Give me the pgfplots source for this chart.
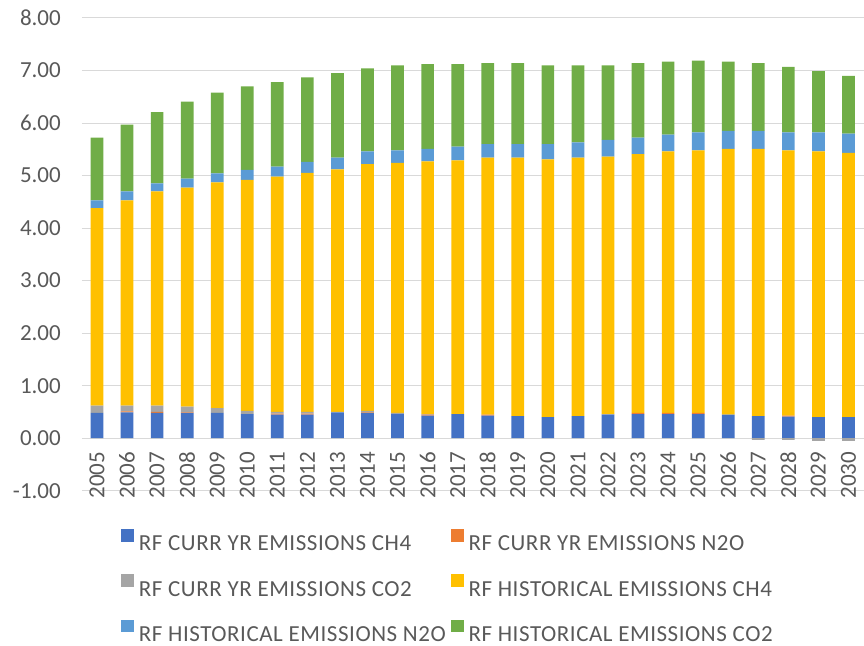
\documentclass[border=0pt]{standalone}
\usepackage{pgfplots}
\usepackage{pgfplotstable}
\usepackage{fontspec}
\setmainfont{Carlito}
\newfontfamily\legfont[LetterSpace=2.4]{Carlito}
\pgfplotsset{compat=1.18}
\definecolor{cch4}{HTML}{4472C4}
\definecolor{cn2o}{HTML}{ED7D31}
\definecolor{cco2}{HTML}{A5A5A5}
\definecolor{hch4}{HTML}{FFC000}
\definecolor{hn2o}{HTML}{5B9BD5}
\definecolor{hco2}{HTML}{70AD47}
\definecolor{txt}{HTML}{595959}
\definecolor{grd}{HTML}{D9D9D9}

% stacked segments
\pgfplotstableread{
year cch4 cn2o cco2 hch4 hn2o hco2 neg
2005 0.48 0.00 0.14 3.76 0.15 1.19 0
2006 0.49 0.02 0.11 3.91 0.17 1.27 0
2007 0.48 0.02 0.12 4.08 0.15 1.36 0
2008 0.48 0.01 0.11 4.17 0.17 1.47 0
2009 0.48 0.00 0.09 4.30 0.17 1.54 0
2010 0.46 0.00 0.06 4.40 0.19 1.59 0
2011 0.45 0.02 0.03 4.48 0.19 1.61 0
2012 0.45 0.02 0.03 4.55 0.21 1.61 0
2013 0.49 0.00 0.01 4.62 0.22 1.61 0
2014 0.48 0.01 0.03 4.70 0.24 1.58 0
2015 0.46 0.00 0.02 4.76 0.24 1.62 0
2016 0.43 0.02 0.01 4.81 0.24 1.61 0
2017 0.46 0.00 0.00 4.83 0.26 1.57 0
2018 0.43 0.02 0.00 4.89 0.26 1.54 0
2019 0.42 0.00 0.00 4.92 0.26 1.54 0
2020 0.40 0.00 0.00 4.91 0.29 1.50 0
2021 0.42 0.00 0.00 4.92 0.29 1.47 0
2022 0.45 0.00 0.01 4.90 0.32 1.42 0
2023 0.46 0.02 0.00 4.93 0.31 1.42 0
2024 0.46 0.02 0.00 4.98 0.32 1.39 0
2025 0.46 0.02 0.00 5.00 0.34 1.37 0
2026 0.45 0.00 0.00 5.06 0.34 1.32 0
2027 0.42 0.00 0.00 5.09 0.34 1.29 -0.03
2028 0.41 0.02 0.00 5.05 0.34 1.25 -0.03
2029 0.40 0.00 0.00 5.06 0.36 1.17 -0.05
2030 0.40 0.00 0.00 5.03 0.37 1.10 -0.05
}\rf

\pgfplotsset{
  common/.style={
    scale only axis,
    width=782pt, height=473pt,
    xmin=2004.5, xmax=2030.5,
    ymin=-1, ymax=8,
    enlargelimits=false,
    bar width=12.7pt,
  },
}

\begin{document}
\begin{tikzpicture}
\begin{axis}[
    common,
    ybar stacked,
    axis line style={draw=none},
    major tick length=0pt,
    xtick={2005,...,2030},
    ytick={-1,0,...,8},
    ymajorgrids=true,
    grid style={grd, line width=1pt},
    /pgf/number format/assume math mode=true,
    tick label style={font=\fontsize{23}{27}\selectfont, text=txt},
    x tick label style={/pgf/number format/1000 sep={}, rotate=90, anchor=east, inner sep=0pt},
    xticklabel shift=-39pt,
    y tick label style={/pgf/number format/.cd, fixed, fixed zerofill, precision=2, /tikz/.cd, inner sep=0pt},
    yticklabel shift=21pt,
    legend columns=2,
    legend cell align=left,
    legend image code/.code={\fill[#1] (0pt,1pt) rectangle (12.7pt,13.7pt);},
    legend style={at={(0.0499,-0.0804)}, anchor=north west, draw=none, fill=none,
      inner sep=0pt, font=\legfont\fontsize{23}{27}\selectfont, text=txt,
      nodes={inner ysep=0pt, inner xsep=5pt, text height=16pt, text depth=0pt},
      row sep=23.75pt,
      /tikz/every even column/.append style={column sep=0pt}},
]
\addplot[fill=cch4, draw=none] table[x=year, y=cch4] {\rf};
\addlegendentry{RF CURR YR EMISSIONS CH4}
\addplot[fill=cn2o, draw=none] table[x=year, y=cn2o] {\rf};
\addlegendentry{RF CURR YR EMISSIONS N2O}
\addplot[fill=cco2, draw=none] table[x=year, y=cco2] {\rf};
\addlegendentry{RF CURR YR EMISSIONS CO2}
\addplot[fill=hch4, draw=none] table[x=year, y=hch4] {\rf};
\addlegendentry{RF HISTORICAL EMISSIONS CH4}
\addplot[fill=hn2o, draw=none] table[x=year, y=hn2o] {\rf};
\addlegendentry{RF HISTORICAL EMISSIONS N2O}
\addplot[fill=hco2, draw=none] table[x=year, y=hco2] {\rf};
\addlegendentry{RF HISTORICAL EMISSIONS CO2}
\end{axis}
% negative current-year CO2, stacked below zero as Excel does
\begin{axis}[common, ybar, hide axis]
\addplot[fill=cco2, draw=none] table[x=year, y=neg] {\rf};
\end{axis}
\path (current axis.south west) ++(-82pt,-155pt);
\path (current axis.north east) ++(0pt,18pt);
\end{tikzpicture}
\end{document}
